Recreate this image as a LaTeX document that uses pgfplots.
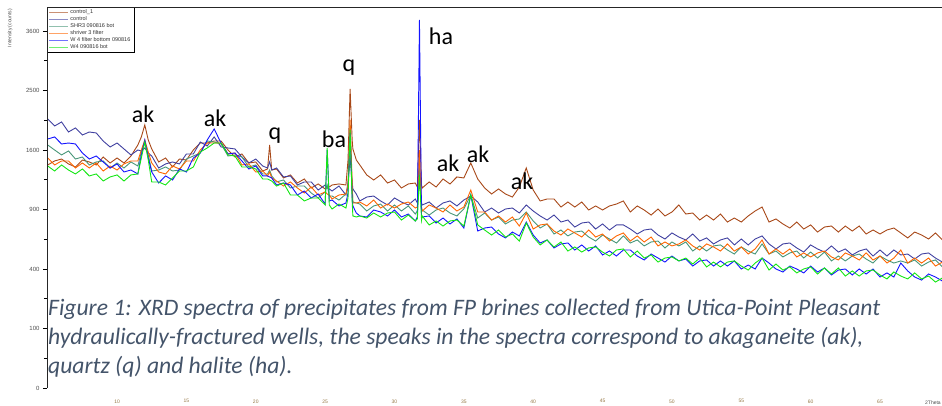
\documentclass[border=0pt]{standalone}
\usepackage{pgfplots}
\pgfplotsset{compat=1.18}
\usepackage{pgfplotstable}
\usepackage{fontspec}
\setmainfont{Liberation Sans}
\newfontfamily\carlito{Carlito}
\definecolor{cBrown}{RGB}{168,72,24}
\definecolor{cSlate}{RGB}{64,64,160}
\definecolor{cTeal}{RGB}{72,150,120}
\definecolor{cOrange}{RGB}{255,102,0}
\definecolor{cBlue}{RGB}{20,20,255}
\definecolor{cGreen}{RGB}{20,230,20}
\definecolor{capcol}{RGB}{68,84,106}
\definecolor{tickx}{RGB}{150,120,70}
\pgfplotstableread{
x B C T O W G
5.0 1405 2044 1668 1494 1751 1392
5.5 1456 1939 1600 1405 1780 1330
6.0 1481 1999 1534 1456 1682 1405
6.5 1418 1851 1587 1456 1695 1342
7.0 1380 1910 1481 1367 1682 1294
7.5 1468 1808 1507 1430 1560 1355
8.0 1443 1851 1405 1367 1481 1270
8.5 1405 1837 1443 1430 1520 1294
9.0 1507 1723 1456 1330 1443 1210
9.5 1430 1641 1367 1392 1367 1258
10.0 1494 1695 1430 1342 1418 1282
10.5 1430 1614 1367 1418 1318 1210
11.0 1520 1534 1443 1456 1342 1282
11.5 1668 1600 1392 1456 1294 1294
11.75 1780 1587 1573 1600 1534 1494
12.0 1954 1627 1709 1737 1737 1709
12.25 1737 1560 1534 1573 1494 1468
12.5 1614 1520 1330 1430 1318 1199
13.0 1443 1367 1342 1318 1187 1199
13.5 1494 1418 1380 1294 1270 1164
14.0 1380 1443 1330 1392 1222 1246
14.5 1481 1418 1342 1355 1355 1330
15.0 1468 1547 1481 1456 1318 1330
15.5 1600 1547 1520 1456 1494 1380
16.0 1695 1709 1560 1600 1560 1573
16.5 1695 1654 1723 1695 1737 1627
17.0 1723 1780 1709 1695 1895 1695
17.5 1723 1641 1682 1695 1695 1695
18.0 1600 1627 1520 1547 1547 1534
18.5 1507 1614 1534 1560 1560 1520
19.0 1547 1507 1507 1405 1456 1380
19.5 1430 1430 1380 1418 1355 1380
20.0 1443 1481 1405 1318 1392 1355
20.5 1330 1392 1294 1330 1270 1234
20.85 1355 1367 1294 1270 1270 1234
21.0 1668 1443 1342 1318 1258 1222
21.15 1342 1342 1270 1246 1246 1210
21.5 1355 1367 1199 1210 1164 1152
22.0 1246 1258 1222 1152 1187 1187
22.5 1282 1270 1130 1199 1164 1052
23.0 1187 1164 1152 1130 1052 1052
23.5 1234 1199 1152 1074 1096 988
24.0 1130 1199 1074 1141 1020 1020
24.5 1176 1107 1020 1052 1063 1020
25.0 1119 1164 1085 1085 956 946
25.15 1141 1130 1164 1063 1600 1627
25.3 1141 1119 1041 1052 988 946
25.5 1164 1096 1041 1009 998 905
26.0 1176 1152 998 1052 936 956
26.5 1164 1052 1063 1063 967 915
26.65 1468 1187 1130 1164 1074 1020
26.8 2525 1494 1954 2029 1837 1880
26.95 1737 1199 1130 1187 1020 977
27.0 1614 1119 977 967 936 836
27.25 1468 1063 967 967 865 826
27.5 1405 988 956 977 836 836
28.0 1282 1030 885 936 826 816
28.5 1222 1041 936 998 895 865
29.0 1282 988 956 915 875 826
29.5 1187 946 885 956 836 865
30.0 1222 1020 946 915 895 875
30.5 1130 977 885 956 826 797
31.0 1176 946 936 977 855 845
31.5 1187 1009 855 915 788 788
31.65 1141 967 885 925 826 807
31.8 2029 1222 1405 1600 3825 1282
31.95 1164 967 885 925 816 797
32.0 1130 946 895 885 826 836
32.5 1199 977 845 946 836 751
33.0 1141 915 895 915 769 788
33.5 1234 967 915 875 816 741
34.0 1176 988 865 946 760 788
34.5 1258 936 836 885 807 797
35.0 1246 998 905 925 723 741
35.5 1430 1041 1052 1107 1052 1052
36.0 1234 977 816 875 696 751
36.5 1130 875 865 875 723 705
37.0 1063 915 797 797 732 661
37.5 1119 865 826 836 670 705
38.0 1063 905 760 778 636 644
38.5 1030 915 797 826 687 670
39.0 1141 865 807 741 653 610
39.5 1367 946 875 865 778 769
40.0 1107 885 788 714 661 644
40.5 988 836 723 751 594 578
41.0 1009 797 760 760 619 619
41.5 1009 845 670 696 554 562
42.0 925 778 705 661 586 602
42.5 977 797 653 714 594 530
43.0 925 732 687 679 538 562
43.5 977 769 696 644 578 522
44.0 895 778 644 705 530 554
44.5 936 714 610 644 570 562
45.0 895 760 661 670 500 522
45.5 936 705 627 610 530 492
46.0 956 751 594 653 492 538
46.5 988 751 653 679 538 546
47.0 875 714 594 610 538 485
47.5 936 670 619 653 492 530
48.0 895 705 570 602 463 477
48.5 845 714 602 644 507 500
49.0 905 661 610 570 477 448
49.5 836 627 554 602 448 477
50.0 875 679 602 570 492 485
50.5 946 644 570 586 456 456
51.0 855 619 602 619 470 477
51.5 865 670 530 570 420 434
52.0 797 610 570 538 456 477
52.5 845 636 530 586 463 414
53.0 797 586 570 562 420 448
53.5 855 619 578 530 456 414
54.0 778 636 538 586 420 448
54.5 816 578 507 530 456 456
55.0 778 627 562 562 400 420
55.5 836 578 530 507 427 393
56.0 885 627 507 546 400 441
56.5 925 653 586 619 477 477
57.0 778 586 507 507 441 393
57.5 807 546 530 546 400 434
58.0 760 586 485 507 380 393
58.5 723 594 515 546 420 414
59.0 778 554 530 485 400 374
59.5 714 522 477 515 374 400
60.0 751 578 522 485 420 414
60.5 687 546 477 515 380 367
61.0 732 522 522 530 407 407
61.5 741 570 456 485 361 367
62.0 687 522 492 463 393 407
62.5 741 546 456 515 400 354
63.0 696 500 492 492 361 387
63.5 741 530 507 463 400 354
64.0 670 546 470 515 367 387
64.5 705 492 441 463 400 393
65.0 670 538 492 492 348 361
65.5 705 492 463 441 374 336
66.0 723 538 441 477 348 380
66.5 679 500 456 538 441 354
67.0 636 507 441 441 387 336
67.5 687 470 463 477 348 374
68.0 661 507 420 441 329 336
68.5 627 515 448 477 367 354
69.0 679 477 463 420 348 317
69.5 619 448 414 448 323 342
}\xrd
\begin{document}
\begin{tikzpicture}
\useasboundingbox (0,0) rectangle (942pt,406pt);
\begin{axis}[
  at={(47pt,18pt)}, anchor=south west,
  scale only axis, width=895pt, height=381pt,
  xmin=4.95, xmax=69.47, ymin=0, ymax=4100,
  y coord trafo/.code={\pgfmathparse{sqrt(#1)}},
  y coord inv trafo/.code={\pgfmathparse{(#1)^2}},
  axis line style={draw=none},
  clip=false,
  xtick={10,15,...,65},
  xtick style={draw=none},
  ytick={0,100,400,900,1600,2500,3600},
  yticklabels={0,100,400,900,1600,2500,3600},
  minor ytick={25,225,625,1225,2025,3025},
  ytick pos=left,
  tick align=outside,
  major tick length=4pt, minor tick length=3pt,
  ytick style={black, line width=0.6pt},
  yticklabel style={font=\fontsize{6}{7}\selectfont, text=black!70},
  xticklabel style={font=\fontsize{5}{6}\selectfont, text=tickx, yshift=-4pt},
  /pgf/number format/assume math mode=true,
  legend cell align=left,
  legend style={at={(rel axis cs:0,1)}, anchor=north west, draw=black, line width=0.7pt,
    fill=white, font=\fontsize{5.5}{6}\selectfont, text=black!80,
    inner xsep=1.5pt, inner ysep=0.5pt, row sep=-2.6pt},
  legend image code/.code={\draw[#1, line width=0.6pt, opacity=0.6] (0pt,0pt) -- (19pt,0pt);},
]
\addplot[cBrown, line width=0.9pt] table[x=x, y=B] {\xrd};
\addlegendentry{control\_1}
\addplot[cSlate, line width=0.9pt] table[x=x, y=C] {\xrd};
\addlegendentry{control}
\addplot[cTeal, line width=0.9pt] table[x=x, y=T] {\xrd};
\addlegendentry{SHR3 090816 bot}
\addplot[cOrange, line width=0.9pt] table[x=x, y=O] {\xrd};
\addlegendentry{shriver 3 filter}
\addplot[cBlue, line width=0.9pt] table[x=x, y=W] {\xrd};
\addlegendentry{W 4 filter bottom 090816}
\addplot[cGreen, line width=0.9pt] table[x=x, y=G] {\xrd};
\addlegendentry{W4 090816 bot}
\end{axis}
\draw[line width=0.8pt, black!85] (47pt,18pt) -- (47pt,399pt) -- (942pt,399pt);
\node[rotate=90, font=\fontsize{5}{6}\selectfont, text=black!70] at (10pt,378pt) {Intensity (counts)};
\node[anchor=west, font=\fontsize{5}{6}\selectfont, text=black!70, inner sep=0] at (925pt,3.5pt) {2Theta};
\begin{scope}[every node/.style={anchor=base, inner sep=0, font=\carlito\fontsize{24}{28}\selectfont, text=black}]
\node at (143pt,283pt) {ak};
\node at (215pt,279pt) {ak};
\node at (275pt,266pt) {q};
\node at (334pt,258pt) {ba};
\node at (349pt,334pt) {q};
\node at (441pt,361pt) {ha};
\node at (448pt,234pt) {ak};
\node at (478pt,243pt) {ak};
\node at (522pt,216pt) {ak};
\end{scope}
\begin{scope}[every node/.style={anchor=base west, inner sep=0, font=\carlito\itshape\fontsize{23.6}{29}\selectfont, text=capcol}]
\node at (48pt,90pt) {Figure 1: XRD spectra of precipitates from FP brines collected from Utica-Point Pleasant};
\node at (48pt,61pt) {hydraulically-fractured wells, the speaks in the spectra correspond to akaganeite (ak),};
\node at (48pt,32pt) {quartz (q) and halite (ha).};
\end{scope}
\end{tikzpicture}
\end{document}
